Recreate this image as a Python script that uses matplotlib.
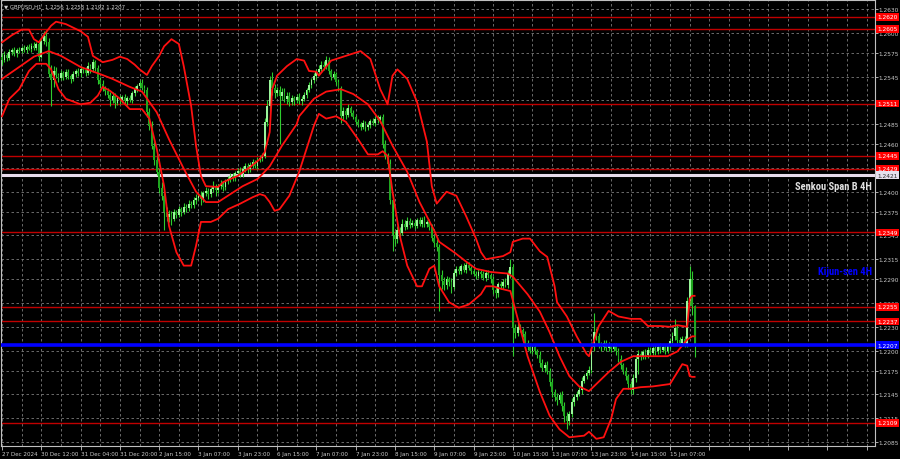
import numpy as np
import matplotlib.pyplot as plt

# GBPUSD H1, one value per hourly bar (27 Dec 2024 20:00 .. 15 Jan 2025 17:00)
first_open = 1.2570
close = [
    1.2566, 1.2572, 1.2568, 1.2576, 1.2578, 1.2574, 1.2579, 1.2577, 1.2581, 1.2578,
    1.2582, 1.2580, 1.2584, 1.2581, 1.2586, 1.2570, 1.2590, 1.2596, 1.2588, 1.2548,
    1.2540, 1.2552, 1.2547, 1.2543, 1.2549, 1.2545, 1.2551, 1.2546, 1.2542, 1.2548,
    1.2552, 1.2549, 1.2555, 1.2553, 1.2550, 1.2558, 1.2554, 1.2563, 1.2556, 1.2540,
    1.2535, 1.2530, 1.2527, 1.2522, 1.2516, 1.2520, 1.2512, 1.2518, 1.2515, 1.2519,
    1.2514, 1.2518, 1.2516, 1.2524, 1.2529, 1.2533, 1.2537, 1.2531, 1.2528, 1.2500,
    1.2483, 1.2458, 1.2440, 1.2425, 1.2405, 1.2395, 1.2375, 1.2368, 1.2372, 1.2366,
    1.2374, 1.2371, 1.2378, 1.2375, 1.2381, 1.2379, 1.2385, 1.2383, 1.2389, 1.2392,
    1.2395, 1.2391, 1.2398, 1.2401, 1.2397, 1.2403, 1.2406, 1.2402, 1.2407, 1.2410,
    1.2406, 1.2413, 1.2416, 1.2420, 1.2417, 1.2423, 1.2426, 1.2422, 1.2429, 1.2432,
    1.2428, 1.2434, 1.2437, 1.2433, 1.2440, 1.2443, 1.2445, 1.2488, 1.2508, 1.2540,
    1.2530, 1.2524, 1.2528, 1.2520, 1.2526, 1.2517, 1.2521, 1.2513, 1.2518, 1.2515,
    1.2519, 1.2514, 1.2517, 1.2522, 1.2528, 1.2534, 1.2540, 1.2546, 1.2551, 1.2555,
    1.2560, 1.2557, 1.2566, 1.2552, 1.2545, 1.2548, 1.2538, 1.2530, 1.2495, 1.2502,
    1.2497, 1.2505, 1.2499, 1.2494, 1.2488, 1.2485, 1.2482, 1.2486, 1.2481, 1.2484,
    1.2489, 1.2487, 1.2492, 1.2490, 1.2494, 1.2460, 1.2445, 1.2435, 1.2390, 1.2345,
    1.2340, 1.2352, 1.2348, 1.2360, 1.2356, 1.2363, 1.2358, 1.2361, 1.2357, 1.2364,
    1.2360, 1.2365, 1.2359, 1.2362, 1.2355, 1.2342, 1.2335, 1.2330, 1.2295, 1.2288,
    1.2282, 1.2290, 1.2286, 1.2280, 1.2298, 1.2303, 1.2300, 1.2306, 1.2302, 1.2308,
    1.2304, 1.2300, 1.2297, 1.2294, 1.2299, 1.2296, 1.2292, 1.2298, 1.2295, 1.2290,
    1.2276, 1.2272, 1.2284, 1.2281, 1.2287, 1.2283, 1.2296, 1.2305, 1.2228, 1.2222,
    1.2230, 1.2226, 1.2221, 1.2210, 1.2205, 1.2200, 1.2204, 1.2199, 1.2195, 1.2185,
    1.2178, 1.2182, 1.2174, 1.2160, 1.2148, 1.2142, 1.2138, 1.2144, 1.2130, 1.2118,
    1.2112, 1.2120, 1.2135, 1.2142, 1.2146, 1.2150, 1.2162, 1.2168, 1.2172, 1.2176,
    1.2205, 1.2224, 1.2218, 1.2208, 1.2204, 1.2210, 1.2203, 1.2207, 1.2202, 1.2206,
    1.2200, 1.2190, 1.2182, 1.2175, 1.2168, 1.2158, 1.2150, 1.2165, 1.2190, 1.2196,
    1.2192, 1.2198, 1.2194, 1.2201, 1.2197, 1.2203, 1.2199, 1.2205, 1.2201, 1.2204,
    1.2200, 1.2206, 1.2212, 1.2218, 1.2228, 1.2214, 1.2210, 1.2215, 1.2208, 1.2262,
    1.2290, 1.2256, 1.2207,
]
# wick lengths in pips above / below the candle body
wick_up = [
    4, 5, 3, 4, 3, 4, 2, 3, 3, 4,   3, 4, 3, 4, 3, 2, 3, 6, 7, 6,
    12, 6, 5, 3, 4, 3, 4, 3, 2, 4,  3, 4, 3, 2, 4, 5, 3, 4, 3, 4,
    4, 5, 3, 4, 3, 5, 4, 3, 4, 3,   4, 3, 4, 3, 4, 3, 4, 5, 3, 4,
    5, 6, 4, 6, 5, 7, 4, 6, 5, 4,   4, 3, 4, 3, 5, 3, 4, 3, 4, 5,
    4, 6, 3, 5, 4, 3, 7, 4, 3, 5,   4, 3, 4, 3, 4, 3, 4, 5, 3, 4,
    4, 3, 4, 3, 4, 3, 4, 5, 7, 6,   11, 5, 4, 5, 4, 5, 4, 5, 4, 3,
    4, 5, 3, 4, 3, 4, 3, 4, 3, 5,   4, 5, 5, 4, 3, 4, 3, 4, 3, 5,
    4, 5, 3, 4, 3, 4, 3, 4, 3, 4,   3, 4, 3, 4, 3, 4, 5, 4, 6, 5,
    6, 5, 4, 6, 4, 5, 4, 3, 4, 3,   4, 3, 4, 3, 4, 5, 4, 5, 4, 6,
    5, 4, 3, 5, 4, 3, 4, 3, 4, 3,   4, 3, 4, 3, 4, 3, 4, 3, 4, 3,
    4, 5, 3, 4, 3, 4, 5, 10, 4, 6,  5, 4, 3, 4, 3, 4, 3, 4, 3, 4,
    5, 4, 5, 4, 5, 4, 5, 4, 5, 6,   5, 4, 5, 4, 3, 4, 5, 3, 4, 5,
    6, 24, 5, 4, 3, 4, 3, 4, 3, 4,  4, 3, 4, 3, 4, 3, 4, 5, 4, 5,
    4, 3, 4, 3, 4, 3, 4, 3, 4, 3,   4, 3, 4, 5, 12, 4, 3, 4, 3, 6,
    16, 10, 2,
]
wick_dn = [
    6, 3, 4, 2, 4, 3, 4, 3, 3, 2,   3, 2, 4, 3, 3, 5, 2, 4, 4, 3,
    32, 8, 4, 5, 3, 4, 3, 4, 5, 3,  3, 3, 4, 3, 4, 3, 4, 3, 4, 5,
    4, 3, 5, 4, 8, 4, 7, 3, 4, 3,   4, 5, 3, 4, 3, 4, 3, 3, 4, 6,
    5, 4, 6, 4, 6, 5, 23, 5, 6, 8,  3, 4, 3, 5, 3, 4, 3, 4, 3, 4,
    3, 8, 4, 3, 6, 4, 3, 7, 3, 4,   5, 4, 3, 4, 3, 4, 3, 4, 3, 4,
    4, 3, 4, 3, 4, 3, 4, 3, 5, 6,   8, 6, 4, 60, 5, 4, 6, 5, 4, 6,
    3, 4, 5, 3, 4, 3, 4, 3, 4, 3,   3, 4, 3, 4, 5, 3, 4, 3, 8, 5,
    5, 3, 4, 3, 4, 3, 4, 3, 4, 3,   4, 3, 4, 3, 4, 5, 4, 5, 6, 20,
    8, 4, 5, 3, 4, 3, 4, 3, 4, 3,   3, 4, 3, 4, 3, 4, 5, 4, 45, 10,
    6, 4, 5, 7, 3, 4, 3, 4, 3, 4,   3, 4, 3, 4, 3, 4, 3, 4, 3, 5,
    5, 6, 4, 3, 4, 3, 4, 5, 35, 6,  4, 3, 4, 5, 4, 3, 4, 3, 4, 5,
    4, 5, 4, 5, 6, 5, 6, 4, 6, 8,   10, 5, 4, 5, 4, 3, 4, 3, 4, 3,
    4, 5, 4, 5, 4, 3, 4, 3, 4, 3,   5, 4, 5, 4, 5, 6, 5, 4, 5, 20,
    4, 3, 4, 3, 4, 3, 4, 3, 4, 3,   4, 3, 4, 3, 5, 4, 3, 4, 3, 3,
    4, 11, 15,
]

# Bollinger bands (bar index, price)
upper_bar = [0, 4, 8, 11, 13, 15, 17, 20, 22, 26, 32, 35, 37, 39, 41, 45, 48, 51, 54, 56,
             59, 61, 64, 66, 69, 72, 74, 77, 79, 81, 83, 88, 90, 96, 101, 105, 107, 109, 110, 112,
             116, 120, 123, 125, 128, 129, 134, 142, 146, 150, 154, 157, 159, 161, 165, 169, 173, 175, 177, 181,
             185, 189, 193, 195, 197, 204, 207, 208, 212, 215, 219, 222, 225, 226, 230, 234, 238, 239, 243, 247,
             251, 256, 260, 263, 268, 272, 275, 279, 280, 281, 282]
upper = [1.2588, 1.2597, 1.2604, 1.2604, 1.2592, 1.2588, 1.2597, 1.2609, 1.2614, 1.2611,
         1.2602, 1.2595, 1.2571, 1.2567, 1.2563, 1.2566, 1.2570, 1.2567, 1.2560, 1.2554,
         1.2547, 1.2558, 1.2571, 1.2583, 1.2592, 1.2586, 1.2558, 1.2508, 1.2458, 1.2420,
         1.2407, 1.2406, 1.2412, 1.2420, 1.2431, 1.2441, 1.2450, 1.2475, 1.2529, 1.2546,
         1.2558, 1.2567, 1.2565, 1.2552, 1.2551, 1.2546, 1.2565, 1.2573, 1.2577, 1.2567,
         1.2529, 1.2510, 1.2546, 1.2554, 1.2542, 1.2513, 1.2463, 1.2407, 1.2385, 1.2400,
         1.2395, 1.2369, 1.2341, 1.2324, 1.2315, 1.2319, 1.2324, 1.2337, 1.2341, 1.2341,
         1.2325, 1.2318, 1.2281, 1.2261, 1.2243, 1.2218, 1.2196, 1.2193, 1.2231, 1.2250,
         1.2243, 1.2240, 1.2240, 1.2231, 1.2231, 1.2230, 1.2232, 1.2230, 1.2265, 1.2269, 1.2269]

mid_bar = [0, 7, 13, 19, 24, 32, 40, 45, 52, 57, 63, 68, 74, 79, 83, 88, 93, 98, 104, 106,
           109, 114, 120, 121, 127, 132, 138, 143, 149, 154, 159, 165, 170, 176, 178, 184, 189, 193, 199, 206,
           208, 214, 219, 223, 227, 231, 235, 239, 243, 247, 252, 257, 263, 271, 275, 279, 281, 282]
middle = [1.2542, 1.2557, 1.2570, 1.2577, 1.2571, 1.2557, 1.2548, 1.2542, 1.2532, 1.2526,
          1.2500, 1.2466, 1.2429, 1.2400, 1.2387, 1.2387, 1.2397, 1.2407, 1.2416, 1.2422,
          1.2432, 1.2458, 1.2485, 1.2495, 1.2517, 1.2526, 1.2529, 1.2523, 1.2510, 1.2489,
          1.2458, 1.2425, 1.2387, 1.2351, 1.2337, 1.2324, 1.2312, 1.2303, 1.2299, 1.2297,
          1.2293, 1.2271, 1.2249, 1.2223, 1.2193, 1.2168, 1.2155, 1.2149, 1.2161, 1.2173,
          1.2186, 1.2193, 1.2193, 1.2193, 1.2199, 1.2214, 1.2218, 1.2218]

lower_bar = [0, 3, 7, 11, 14, 18, 20, 23, 26, 32, 36, 39, 41, 44, 48, 52, 57, 60, 63, 66,
             68, 71, 74, 77, 79, 81, 85, 88, 92, 97, 102, 105, 107, 109, 111, 113, 117, 121, 124, 127,
             129, 132, 136, 140, 145, 149, 153, 155, 157, 159, 162, 165, 169, 171, 174, 176, 178, 182, 186, 190,
             195, 197, 200, 203, 207, 210, 214, 219, 223, 227, 231, 237, 239, 242, 245, 248, 250, 253, 256, 260,
             265, 272, 275, 277, 279, 280, 281, 282]
lower = [1.2495, 1.2517, 1.2529, 1.2552, 1.2561, 1.2561, 1.2554, 1.2529, 1.2517, 1.2510,
         1.2512, 1.2521, 1.2532, 1.2527, 1.2517, 1.2504, 1.2504, 1.2492, 1.2454, 1.2407,
         1.2357, 1.2324, 1.2307, 1.2307, 1.2332, 1.2362, 1.2362, 1.2366, 1.2378, 1.2385,
         1.2393, 1.2397, 1.2395, 1.2387, 1.2376, 1.2378, 1.2395, 1.2425, 1.2454, 1.2483,
         1.2498, 1.2492, 1.2495, 1.2488, 1.2466, 1.2447, 1.2447, 1.2451, 1.2445, 1.2400,
         1.2344, 1.2307, 1.2281, 1.2281, 1.2303, 1.2307, 1.2281, 1.2261, 1.2254, 1.2258,
         1.2271, 1.2281, 1.2281, 1.2278, 1.2275, 1.2240, 1.2193, 1.2148, 1.2118, 1.2101,
         1.2091, 1.2093, 1.2098, 1.2089, 1.2091, 1.2114, 1.2139, 1.2152, 1.2152, 1.2154,
         1.2155, 1.2158, 1.2173, 1.2183, 1.2181, 1.2168, 1.2167, 1.2167]

# horizontal levels
red_levels = [1.2620, 1.2605, 1.2511, 1.2445, 1.2429, 1.2349, 1.2255, 1.2237, 1.2109]
kijun = 1.2207
senkou_b = 1.2421

price_ticks = [1.2630, 1.2600, 1.2575, 1.2545, 1.2515, 1.2485, 1.2460, 1.2430, 1.2400, 1.2375,
               1.2345, 1.2315, 1.2290, 1.2260, 1.2230, 1.2200, 1.2175, 1.2145, 1.2115, 1.2085]
hidden_ticks = [1.2430, 1.2515]
time_labels = ["27 Dec 2024", "30 Dec 12:00", "31 Dec 04:00", "31 Dec 20:00", "2 Jan 15:00",
               "3 Jan 07:00", "3 Jan 23:00", "6 Jan 15:00", "7 Jan 07:00", "7 Jan 23:00",
               "8 Jan 15:00", "9 Jan 07:00", "9 Jan 23:00", "10 Jan 15:00", "13 Jan 07:00",
               "13 Jan 23:00", "14 Jan 15:00", "15 Jan 07:00"]

close = np.array(close)
opens = np.concatenate([[first_open], close[:-1]])
highs = np.maximum(opens, close) + np.array(wick_up) / 10000
lows = np.minimum(opens, close) - np.array(wick_dn) / 10000
bars = np.arange(len(close))

fig = plt.figure(figsize=(9, 4.6), dpi=100, facecolor='black')
ax = fig.add_axes([1 / 900, 13 / 460, 874 / 900, 446 / 460], facecolor='black')

# grid
major_x = np.arange(0, 356, 16)
ax.set_xticks(major_x)
ax.set_xticks(np.arange(8, 356, 16), minor=True)
ax.set_xticklabels(time_labels + [''] * (len(major_x) - len(time_labels)))
ax.set_yticks(price_ticks)
ax.set_yticklabels(['' if t in hidden_ticks else '%.4f' % t for t in price_ticks])
ax.grid(True, which='both', color='#7a7a7a', linestyle=(0, (3, 3)), linewidth=0.6)
ax.set_axisbelow(True)

# levels
for lv in red_levels:
    ax.axhline(lv, color='#c00000', linewidth=1.0, zorder=2)
ax.axhline(senkou_b, color='#e8dcec', linewidth=2.2, zorder=2)
ax.axhline(kijun, color='#0000ff', linewidth=2.6, zorder=5)

# candles
bull = close >= opens
ax.vlines(bars, lows, highs, color='#2ecc2e', linewidth=0.8, zorder=3)
body_h = np.maximum(np.abs(close - opens), 0.00005)
ax.bar(bars[bull], body_h[bull], bottom=np.minimum(opens, close)[bull], width=0.75,
       color='#9af59a', linewidth=0, zorder=4)
ax.bar(bars[~bull], body_h[~bull], bottom=np.minimum(opens, close)[~bull], width=0.75,
       color='#1fa51f', linewidth=0, zorder=4)

# bollinger bands
ax.plot(upper_bar, upper, color='#ff1010', linewidth=1.3, zorder=4)
ax.plot(mid_bar, middle, color='#ff1010', linewidth=1.3, zorder=4)
ax.plot(lower_bar, lower, color='#ff1010', linewidth=1.3, zorder=4)

ax.set_xlim(-0.41, 355.46)
ax.set_ylim(1.20800, 1.26413)

# axes styling
for s in ax.spines.values():
    s.set_color('#c0c0c0')
    s.set_linewidth(0.8)
ax.yaxis.tick_right()
ax.tick_params(axis='y', colors='#c8c8c8', labelsize=4.2, length=2, pad=0.8, width=0.6)
ax.tick_params(axis='x', colors='#c8c8c8', labelsize=4.1, length=3, pad=0.8, width=0.6)
ax.tick_params(axis='x', which='minor', length=0)
for lab in ax.get_xticklabels():
    lab.set_ha('left')

# price boxes on the right scale
ytr = ax.get_yaxis_transform()
box_kw = dict(transform=ytr, fontsize=4.2, va='center', ha='left', clip_on=False, zorder=10)
for lv in red_levels:
    ax.text(1.0025, lv, '%.4f' % lv, color='white',
            bbox=dict(boxstyle='square,pad=0.2', fc='#ff0000', ec='none'), **box_kw)
ax.text(1.0025, senkou_b, '%.4f' % senkou_b, color='#303030',
        bbox=dict(boxstyle='square,pad=0.2', fc='#e6e0ee', ec='none'), **box_kw)
ax.text(1.0025, kijun, '%.4f' % kijun, color='white',
        bbox=dict(boxstyle='square,pad=0.2', fc='#0000ff', ec='none'), **box_kw)

# captions
cap_font = ['Roboto Condensed', 'Liberation Sans Narrow', 'DejaVu Sans']
ax.text(0.9966, 0.583, 'Senkou Span B 4H', transform=ax.transAxes, ha='right', va='center',
        fontsize=7.6, fontweight='bold', fontstretch='condensed', color='#e0e0e0',
        family=cap_font, zorder=10)
ax.text(0.9966, 0.392, 'Kijun-sen 4H', transform=ax.transAxes, ha='right', va='center',
        fontsize=7.6, fontweight='bold', fontstretch='condensed', color='#0000ff',
        family=cap_font, zorder=10)
ax.text(0.004, 0.987, '\u25bc GBPUSD,H1  1.2256 1.2258 1.2192 1.2207', transform=ax.transAxes,
        ha='left', va='center', fontsize=3.9, color='#d0d0d0', zorder=10)

fig.savefig('out.png', dpi=100, facecolor='black')
